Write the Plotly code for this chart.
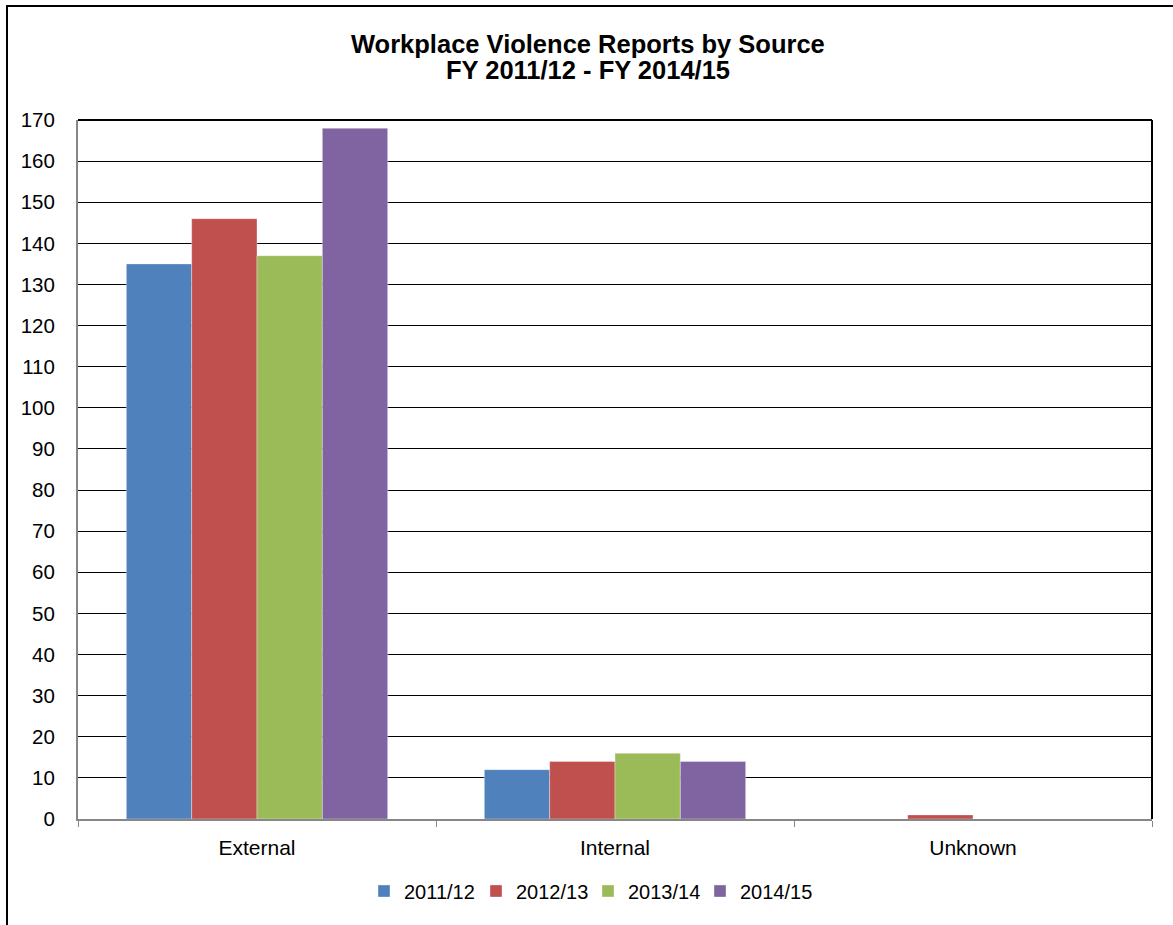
import plotly.graph_objects as go

categories = ["External", "Internal", "Unknown"]
series_names = ["2011/12", "2012/13", "2013/14", "2014/15"]
values_2011_12 = [135, 12, 0]
values_2012_13 = [146, 14, 1]
values_2013_14 = [137, 16, 0]
values_2014_15 = [168, 14, 0]
colors = ["#4F81BD", "#C0504D", "#9BBB59", "#8064A2"]
y_ticks = list(range(0, 171, 10))
title_lines = ["Workplace Violence Reports by Source", "FY 2011/12 - FY 2014/15"]

W, H = 1173, 925
L, R, T, B = 78, 21, 120, 106
pw, ph = W - L - R, H - T - B

def px_x(x):
    return (x - L) / pw

def px_y(y):
    return (H - B - y) / ph

FONT = "Arial, 'Liberation Sans', sans-serif"

fig = go.Figure()
for name, vals, col in zip(series_names,
                           [values_2011_12, values_2012_13, values_2013_14, values_2014_15],
                           colors):
    fig.add_trace(go.Bar(name=name, x=categories, y=vals,
                         marker=dict(color=col, line=dict(color="rgba(255,255,255,0.35)", width=1))))

title_ys = [44, 70]
for txt, ty in zip(title_lines, title_ys):
    fig.add_annotation(text="<b>" + txt + "</b>", xref="paper", yref="paper",
                       x=px_x(588), y=px_y(ty), xanchor="center", yanchor="middle",
                       showarrow=False, font=dict(family=FONT, size=25.5, color="black"))

fig.update_layout(
    width=W, height=H,
    margin=dict(l=L, r=R, t=T, b=B),
    paper_bgcolor="white", plot_bgcolor="white",
    barmode="group", bargap=0.27, bargroupgap=0,
    font=dict(family=FONT, color="black", size=20),
    showlegend=True,
    legend=dict(orientation="h", x=px_x(588), xanchor="center", y=px_y(891), yanchor="middle",
                font=dict(family=FONT, size=20, color="black"), itemwidth=30,
                entrywidth=67, entrywidthmode="pixels",
                bgcolor="rgba(0,0,0,0)", traceorder="normal"),
    xaxis=dict(type="category", showline=True, linecolor="#878787", linewidth=2,
               ticks="outside", tickson="boundaries", ticklen=6, tickcolor="#878787", tickwidth=1,
               ticklabelstandoff=9, showgrid=False, tickfont=dict(size=21)),
    yaxis=dict(range=[0, 170], tickvals=y_ticks, showline=True, linecolor="#878787", linewidth=2,
               showgrid=True, gridcolor="black", gridwidth=1, zeroline=False,
               ticks="", ticklabelstandoff=17, tickfont=dict(size=20.5)),
    shapes=[
        # plot area top and right borders
        dict(type="line", xref="paper", yref="paper", x0=0, x1=1, y0=1, y1=1,
             line=dict(color="black", width=2)),
        dict(type="line", xref="paper", yref="paper", x0=1, x1=1, y0=0, y1=1,
             line=dict(color="black", width=2)),
        # outer chart frame
        dict(type="rect", xref="paper", yref="paper",
             x0=px_x(7), x1=px_x(W + 10), y0=px_y(H + 10), y1=px_y(6),
             line=dict(color="black", width=2), fillcolor="rgba(0,0,0,0)", layer="above"),
    ],
)

fig.write_html("out.html")
